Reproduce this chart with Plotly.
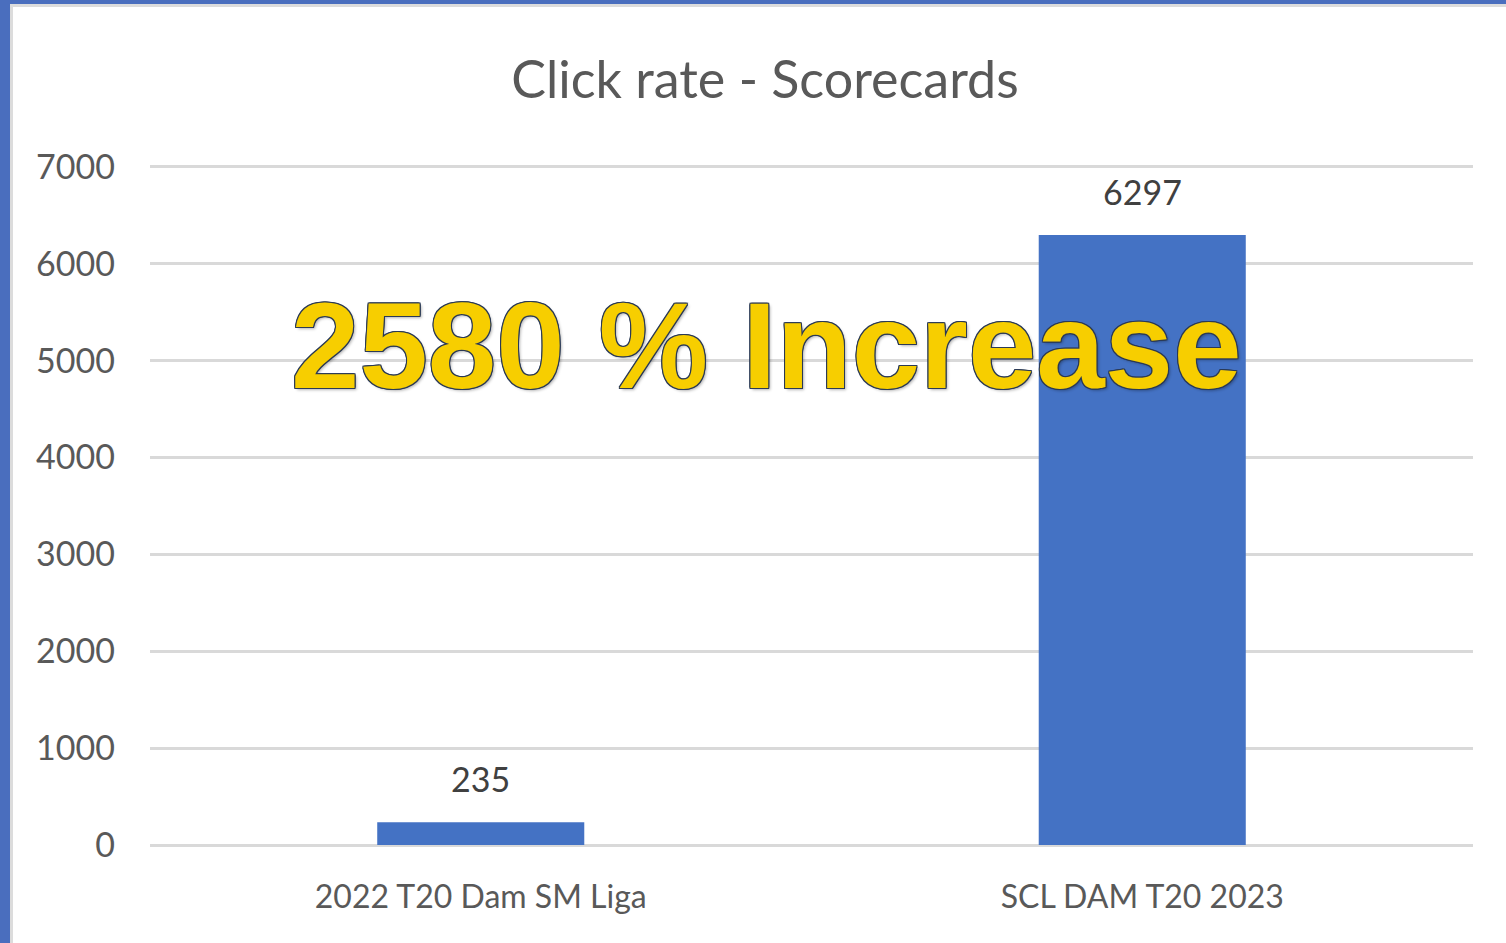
import plotly.graph_objects as go

categories = ["2022 T20 Dam SM Liga", "SCL DAM T20 2023"]
values = [235, 6297]
y_ticks = [0, 1000, 2000, 3000, 4000, 5000, 6000, 7000]
title_text = "Click rate - Scorecards"
overlay_text = "2580 % Increase"

W, H = 1506, 943
Y_MAX = 7050
L, R, B = 150, 33, 98
T = round(845 - (845 - 167) * Y_MAX / 7000)
pw, ph = W - L - R, H - T - B

def px_x(p):
    return (p - L) / pw

def px_y(p):
    return 1 - (p - T) / ph

BAR = "#4472C4"
FONT = "Lato, 'Open Sans', sans-serif"

fig = go.Figure()
fig.add_trace(go.Bar(
    x=categories, y=values, marker=dict(color=BAR, line=dict(width=0)),
    width=0.313, hoverinfo="skip"
))

for c, v in zip(categories, values):
    fig.add_annotation(x=c, y=v, text=str(v), showarrow=False, yanchor="bottom",
                       yshift=21, font=dict(family=FONT, size=34, color="#404040"))

shadow = ", ".join(f"{dx}px {dy}px 0 #2b3a55" for dx in (-1, 0, 1) for dy in (-1, 0, 1) if dx or dy)
shadow += ", 2px 2px 3px rgba(0,0,0,0.3)"
fig.add_annotation(xref="paper", yref="paper", x=px_x(766), y=px_y(345),
                   text=f"<b>{overlay_text}</b>", showarrow=False,
                   xanchor="center", yanchor="middle",
                   font=dict(family="'Liberation Sans', Arial, sans-serif", size=123,
                             color="#F7CE00", shadow=shadow))

shapes = [
    dict(type="rect", xref="paper", yref="paper", x0=px_x(0), x1=px_x(10), y0=px_y(H), y1=px_y(0),
         fillcolor="#4A6EBE", line=dict(width=0), layer="above"),
    dict(type="rect", xref="paper", yref="paper", x0=px_x(0), x1=px_x(W), y0=px_y(4), y1=px_y(0),
         fillcolor="#4A6EBE", line=dict(width=0), layer="above"),
    dict(type="rect", xref="paper", yref="paper", x0=px_x(10), x1=px_x(13), y0=px_y(H), y1=px_y(4),
         fillcolor="#DCDCDC", line=dict(width=0), layer="above"),
    dict(type="rect", xref="paper", yref="paper", x0=px_x(10), x1=px_x(W), y0=px_y(7), y1=px_y(4),
         fillcolor="#DCDCDC", line=dict(width=0), layer="above"),
]

fig.update_layout(
    width=W, height=H,
    margin=dict(l=L, r=R, t=T, b=B),
    paper_bgcolor="white", plot_bgcolor="white",
    showlegend=False,
    shapes=shapes,
    title=dict(text=title_text, x=765 / W, xanchor="center",
               y=1 - 80 / H, yanchor="middle",
               font=dict(family=FONT, size=52, color="#595959")),
    xaxis=dict(showgrid=False, showline=False, zeroline=False, ticks="",
               tickfont=dict(family=FONT, size=32, color="#595959"),
               ticklabelstandoff=30),
    yaxis=dict(range=[0, Y_MAX], tickvals=y_ticks, showgrid=True, gridcolor="#D9D9D9",
               gridwidth=3, zeroline=True, zerolinecolor="#D9D9D9", zerolinewidth=3,
               showline=False, ticks="", ticklabelstandoff=34,
               tickfont=dict(family=FONT, size=34, color="#595959")),
)

fig.write_html("out.html", config={"displayModeBar": False},
               post_script="document.body.style.margin='0';document.body.style.padding='0';")
